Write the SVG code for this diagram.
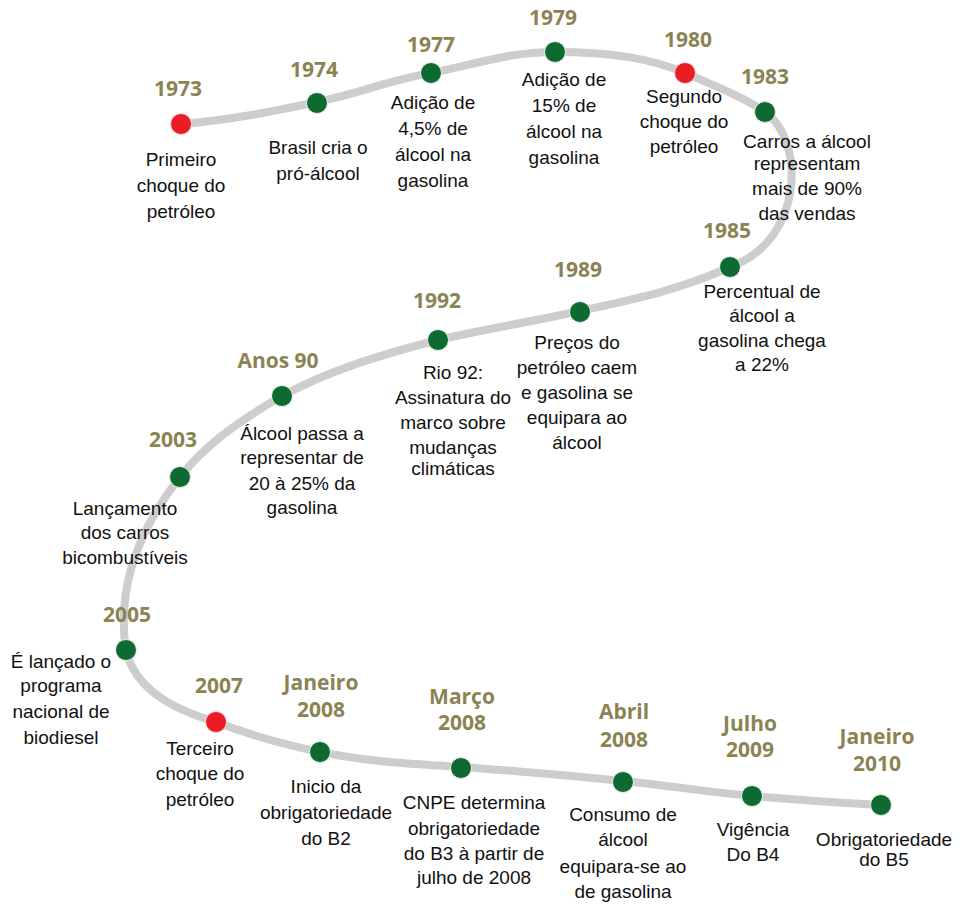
<svg xmlns="http://www.w3.org/2000/svg" width="963" height="904" viewBox="0 0 963 904">
<style>
.yr{font-family:"Open Sans","Liberation Sans",sans-serif;font-weight:700;font-size:21px;fill:#8b8352;text-anchor:middle}
.tx{font-family:"Liberation Sans",Arial,sans-serif;font-size:19px;fill:#111;text-anchor:middle}
.g{fill:#0d6a31;stroke:#e8f1ea;stroke-width:1}
.r{fill:#ec1c24;stroke:#f6dada;stroke-width:1}
.line{fill:none;stroke:#cdcdcd;stroke-width:8;stroke-linecap:round}
</style>
<rect width="963" height="904" fill="#fff"/>
<g id="connectors">
<path class="line" d="M181,124 C230,120 270,112 317,102 C360,93 390,80 431,73 C480,63 510,52 555,52 C610,52 650,58 685,73 C720,88 745,98 765,112 C805,140 805,240 730,267 C680,290 630,300 580,311 C530,322 480,330 438,340 C380,355 330,370 282,396 C240,420 205,445 180,477 C130,540 118,600 126,650 C135,690 175,710 216,722 C250,735 285,745 320,752 C370,762 410,764 461,767 C520,771 570,776 624,781 C670,786 710,792 752,796 C800,800 840,803 880,805"/>
</g>
<g id="n1973"><text class="yr" x="178" y="96">1973</text><circle class="r" cx="181" cy="124" r="10.5"/>
<text class="tx" x="181"><tspan x="181" y="166">Primeiro</tspan><tspan x="181" y="192">choque do</tspan><tspan x="181" y="218">petróleo</tspan></text></g>
<g id="n1974"><text class="yr" x="314" y="77">1974</text><circle class="g" cx="317" cy="103" r="10.5"/>
<text class="tx"><tspan x="318" y="154">Brasil cria o</tspan><tspan x="318" y="180">pró-álcool</tspan></text></g>
<g id="n1977"><text class="yr" x="431" y="52">1977</text><circle class="g" cx="431" cy="73" r="10.5"/>
<text class="tx"><tspan x="433" y="109">Adição de</tspan><tspan x="433" y="135">4,5% de</tspan><tspan x="433" y="161">álcool na</tspan><tspan x="433" y="187">gasolina</tspan></text></g>
<g id="n1979"><text class="yr" x="553" y="25">1979</text><circle class="g" cx="555" cy="52" r="10.5"/>
<text class="tx"><tspan x="564" y="86">Adição de</tspan><tspan x="564" y="112">15% de</tspan><tspan x="564" y="138">álcool na</tspan><tspan x="564" y="164">gasolina</tspan></text></g>
<g id="n1980"><text class="yr" x="688" y="47">1980</text><circle class="r" cx="685" cy="73" r="10.5"/>
<text class="tx"><tspan x="684" y="103">Segundo</tspan><tspan x="684" y="128">choque do</tspan><tspan x="684" y="153">petróleo</tspan></text></g>
<g id="n1983"><text class="yr" x="765" y="84">1983</text><circle class="g" cx="765" cy="112" r="10.5"/>
<text class="tx"><tspan x="807" y="148">Carros a álcool</tspan><tspan x="807" y="170">representam</tspan><tspan x="807" y="195">mais de 90%</tspan><tspan x="807" y="220">das vendas</tspan></text></g>
<g id="n1985"><text class="yr" x="727" y="238">1985</text><circle class="g" cx="730" cy="267" r="10.5"/>
<text class="tx"><tspan x="762" y="298">Percentual de</tspan><tspan x="762" y="322">álcool a</tspan><tspan x="762" y="347">gasolina chega</tspan><tspan x="762" y="371">a 22%</tspan></text></g>
<g id="n1989"><text class="yr" x="578" y="277">1989</text><circle class="g" cx="580" cy="312" r="10.5"/>
<text class="tx"><tspan x="577" y="349">Preços do</tspan><tspan x="577" y="374">petróleo caem</tspan><tspan x="577" y="399">e gasolina se</tspan><tspan x="577" y="424">equipara ao</tspan><tspan x="577" y="449">álcool</tspan></text></g>
<g id="n1992"><text class="yr" x="437" y="308">1992</text><circle class="g" cx="438" cy="340" r="10.5"/>
<text class="tx"><tspan x="453" y="379">Rio 92:</tspan><tspan x="453" y="404">Assinatura do</tspan><tspan x="453" y="429">marco sobre</tspan><tspan x="453" y="454">mudanças</tspan><tspan x="453" y="475">climáticas</tspan></text></g>
<g id="nAnos90"><text class="yr" x="278" y="368">Anos 90</text><circle class="g" cx="282" cy="396" r="10.5"/>
<text class="tx"><tspan x="302" y="440">Álcool passa a</tspan><tspan x="302" y="464">representar de</tspan><tspan x="302" y="490">20 à 25% da</tspan><tspan x="302" y="514">gasolina</tspan></text></g>
<g id="n2003"><text class="yr" x="173" y="447">2003</text><circle class="g" cx="180" cy="477" r="10.5"/>
<text class="tx"><tspan x="125" y="515">Lançamento</tspan><tspan x="125" y="539">dos carros</tspan><tspan x="125" y="564">bicombustíveis</tspan></text></g>
<g id="n2005"><text class="yr" x="127" y="622">2005</text><circle class="g" cx="126" cy="650" r="10.5"/>
<text class="tx"><tspan x="61" y="668">É lançado o</tspan><tspan x="61" y="692">programa</tspan><tspan x="61" y="718">nacional de</tspan><tspan x="61" y="744">biodiesel</tspan></text></g>
<g id="n2007"><text class="yr" x="219" y="693">2007</text><circle class="r" cx="216" cy="722" r="10.5"/>
<text class="tx"><tspan x="200" y="755">Terceiro</tspan><tspan x="200" y="780">choque do</tspan><tspan x="200" y="806">petróleo</tspan></text></g>
<g id="nJan2008"><text class="yr"><tspan x="321" y="690">Janeiro</tspan><tspan x="321" y="717">2008</tspan></text><circle class="g" cx="320" cy="752" r="10.5"/>
<text class="tx"><tspan x="326" y="793">Inicio da</tspan><tspan x="326" y="819">obrigatoriedade</tspan><tspan x="326" y="845">do B2</tspan></text></g>
<g id="nMar2008"><text class="yr"><tspan x="462" y="704">Março</tspan><tspan x="462" y="730">2008</tspan></text><circle class="g" cx="461" cy="768" r="10.5"/>
<text class="tx"><tspan x="474" y="809">CNPE determina</tspan><tspan x="474" y="835">obrigatoriedade</tspan><tspan x="474" y="860">do B3 à partir de</tspan><tspan x="474" y="884">julho de 2008</tspan></text></g>
<g id="nAbr2008"><text class="yr"><tspan x="624" y="719">Abril</tspan><tspan x="624" y="747">2008</tspan></text><circle class="g" cx="623" cy="782" r="10.5"/>
<text class="tx"><tspan x="623" y="821">Consumo de</tspan><tspan x="623" y="846">álcool</tspan><tspan x="623" y="873">equipara-se ao</tspan><tspan x="623" y="898">de gasolina</tspan></text></g>
<g id="nJul2009"><text class="yr"><tspan x="750" y="731">Julho</tspan><tspan x="750" y="757">2009</tspan></text><circle class="g" cx="752" cy="796" r="10.5"/>
<text class="tx"><tspan x="753" y="836">Vigência</tspan><tspan x="753" y="861">Do B4</tspan></text></g>
<g id="nJan2010"><text class="yr"><tspan x="877" y="744">Janeiro</tspan><tspan x="877" y="771">2010</tspan></text><circle class="g" cx="881" cy="805" r="10.5"/>
<text class="tx"><tspan x="884" y="846">Obrigatoriedade</tspan><tspan x="884" y="866">do B5</tspan></text></g>
</svg>
